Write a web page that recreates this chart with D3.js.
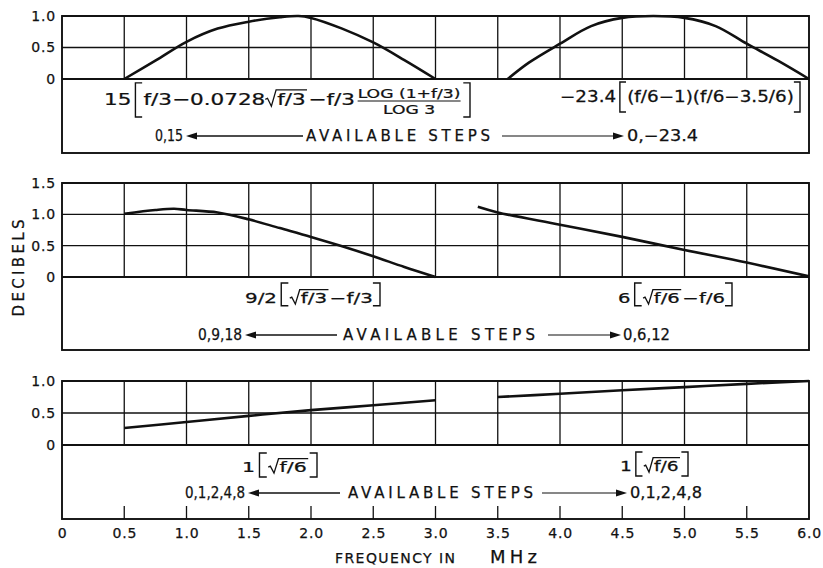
<!DOCTYPE html>
<html>
<head>
<meta charset="utf-8">
<script src="https://cdn.jsdelivr.net/npm/d3@7"></script>
<style>
  body { margin: 0; background: #fff; }
  svg { display: block; font-family: "DejaVu Sans", sans-serif; }
  text { fill: #111; stroke: #111; stroke-width: 0.25px; }
</style>
</head>
<body>
<svg width="823" height="568"></svg>
<script>
// ---- data ----
const freqTicks = [0, 0.5, 1.0, 1.5, 2.0, 2.5, 3.0, 3.5, 4.0, 4.5, 5.0, 5.5, 6.0];
const freqLabels = ["0", "0.5", "1.0", "1.5", "2.0", "2.5", "3.0", "3.5", "4.0", "4.5", "5.0", "5.5", "6.0"];

// top panel
const aTicks = [0, 0.5, 1.0];
const aLabels = ["0", "0.5", "1.0"];
const aLowF = [0.5, 0.75, 1.0, 1.25, 1.5, 1.75, 1.9, 2.0, 2.25, 2.5, 2.75, 3.0];
const aLowDb = [0, 0.29, 0.59, 0.8, 0.91, 0.98, 1.0, 0.97, 0.8, 0.58, 0.3, 0];
const aHighF = [3.58, 3.75, 4.0, 4.25, 4.5, 4.75, 5.0, 5.25, 5.5, 5.75, 6.0];
const aHighDb = [0, 0.26, 0.56, 0.84, 0.97, 1.0, 0.97, 0.84, 0.56, 0.29, 0];
const aSteps = ["0,15", "0,\u221223.4"];

// middle panel
const bTicks = [0, 0.5, 1.0, 1.5];
const bLabels = ["0", "0.5", "1.0", "1.5"];
const bLowF = [0.5, 0.75, 0.9, 1.0, 1.25, 1.5, 1.75, 2.0, 2.25, 2.5, 2.75, 3.0];
const bLowDb = [1.01, 1.07, 1.09, 1.07, 1.03, 0.92, 0.78, 0.64, 0.49, 0.33, 0.16, 0];
const bHighF = [3.34, 3.5, 4.0, 4.5, 5.0, 5.5, 6.0];
const bHighDb = [1.12, 1.03, 0.835, 0.64, 0.43, 0.23, 0.01];
const bSteps = ["0,9,18", "0,6,12"];

// bottom panel
const cTicks = [0, 0.5, 1.0];
const cLabels = ["0", "0.5", "1.0"];
const cLowF = [0.5, 1.0, 1.5, 2.0, 2.5, 3.0];
const cLowDb = [0.265, 0.36, 0.455, 0.545, 0.62, 0.7];
const cHighF = [3.5, 4.0, 4.5, 5.0, 5.5, 6.0];
const cHighDb = [0.75, 0.8, 0.855, 0.905, 0.955, 1.0];
const cSteps = ["0,1,2,4,8", "0,1,2,4,8"];

const stepsText = "AVAILABLE STEPS";
const yTitle = "DECIBELS";
const xTitle = "FREQUENCY IN";
const xUnit = "MHz";

// formulas (strings, square roots, fractions, brackets)
const fA1 = ["15", { br: ["f/3\u22120.0728", { sqrt: ["f/3"] }, "\u2212f/3 ", { frac: [["LOG (1+f/3)"], ["LOG 3"]] }], hi: 1.38, lo: 0.75 }];
const fA2 = ["\u221223.4 ", { br: ["(f/6\u22121)(f/6\u22123.5/6)"], hi: 1.33, lo: 0.67 }];
const fB1 = ["9/2", { br: [{ sqrt: ["f/3"] }, "\u2212f/3"], hi: 1.43, lo: 0.2 }];
const fB2 = ["6", { br: [{ sqrt: ["f/6"] }, "\u2212f/6"], hi: 1.43, lo: 0.2 }];
const fC1 = ["1", { br: [{ sqrt: ["f/6"] }], hi: 1.36, lo: 0.36 }];
const fC2 = ["1", { br: [{ sqrt: ["f/6"] }], hi: 1.36, lo: 0.36 }];

// ---- layout ----
const svg = d3.select("svg");
const ink = "#111";
const x = d3.scaleLinear().domain([0, 6]).range([62, 809]);

const panels = [
  {
    top: 16, zero: 79, bottom: 153, max: 1.0, ticks: aTicks, labels: aLabels,
    series: [[aLowF, aLowDb], [aHighF, aHighDb]],
    formulas: [[fA1, 104, 105, 16, 366], [fA2, 560, 102, 15, 240]],
    steps: aSteps, row: { y: 141, l: [183, 186, 303], m: [306, 184], r: [502, 624, 627], lw: [28, 71] },
  },
  {
    top: 183, zero: 277, bottom: 350, max: 1.5, ticks: bTicks, labels: bLabels,
    series: [[bLowF, bLowDb], [bHighF, bHighDb]],
    formulas: [[fB1, 245, 303, 14, 135], [fB2, 618, 303, 14, 114]],
    steps: bSteps, row: { y: 340, l: [242, 245, 337], m: [343, 192], r: [548, 621, 623], lw: [44, 47] },
  },
  {
    top: 381, zero: 445, bottom: 519, max: 1.0, ticks: cTicks, labels: cLabels,
    series: [[cLowF, cLowDb], [cHighF, cHighDb]],
    formulas: [[fC1, 242, 472, 14, 75], [fC2, 620, 471, 14, 68]],
    steps: cSteps, row: { y: 498, l: [245, 248, 340], m: [348, 185], r: [542, 627, 630], lw: [60, 72] },
  },
];

// lays out formula items from (x0, y) and returns the width used
function typeset(g, items, x0, y, fs) {
  let cx = x0;
  items.forEach((it) => {
    if (typeof it === "string") {
      const t = g.append("text").attr("x", cx).attr("y", y).attr("font-size", fs).text(it);
      cx += t.node().getComputedTextLength();
    } else if (it.sqrt) {
      const inner = cx + fs * 0.55;
      const w = typeset(g, it.sqrt, inner, y, fs);
      const topY = y - fs * 0.95;
      g.append("path")
        .attr("d", `M${cx},${y - fs * 0.35}L${cx + fs * 0.1},${y - fs * 0.42}L${cx + fs * 0.28},${y + fs * 0.08}L${cx + fs * 0.5},${topY}H${inner + w + 1}`)
        .attr("fill", "none").attr("stroke", ink).attr("stroke-width", 1.3)
        .attr("vector-effect", "non-scaling-stroke");
      cx = inner + w + 2;
    } else if (it.frac) {
      const sf = fs * 0.8;
      const bar = y - fs * 0.25;
      const gn = g.append("g");
      const gd = g.append("g");
      const wn = typeset(gn, it.frac[0], 0, bar - sf * 0.25, sf);
      const wd = typeset(gd, it.frac[1], 0, bar + sf * 1.0, sf);
      const w = Math.max(wn, wd);
      gn.attr("transform", `translate(${cx + 2 + (w - wn) / 2},0)`);
      gd.attr("transform", `translate(${cx + 2 + (w - wd) / 2},0)`);
      g.append("line")
        .attr("x1", cx + 2).attr("x2", cx + 2 + w).attr("y1", bar).attr("y2", bar)
        .attr("stroke", ink).attr("stroke-width", 1.2);
      cx += w + 4;
    } else if (it.br) {
      const t = y - fs * it.hi;
      const b = y + fs * it.lo;
      const bracket = (xa, dir) =>
        g.append("path")
          .attr("d", `M${xa + dir * 5},${t}H${xa}V${b}H${xa + dir * 5}`)
          .attr("fill", "none").attr("stroke", ink).attr("stroke-width", 1.4)
          .attr("vector-effect", "non-scaling-stroke");
      bracket(cx + 3, 1);
      const w = typeset(g, it.br, cx + 9, y, fs);
      bracket(cx + 9 + w + 5, -1);
      cx += w + 20;
    }
  });
  return cx - x0;
}

// stretch a group horizontally so it spans [x0, x0 + w]
function fitX(g, x0, w) {
  const bb = g.node().getBBox();
  g.attr("transform", `translate(${x0},0) scale(${w / bb.width},1) translate(${-bb.x},0)`);
}

const line = (y) =>
  d3.line().curve(d3.curveCatmullRom.alpha(0.5)).x((d) => x(d[0])).y((d) => y(d[1]));

panels.forEach((p) => {
  const y = d3.scaleLinear().domain([0, p.max]).range([p.zero, p.top]);
  const g = svg.append("g");

  // grid
  g.selectAll(".vgrid")
    .data(freqTicks.slice(1, -1))
    .enter()
    .append("line")
    .attr("x1", (d) => x(d)).attr("x2", (d) => x(d))
    .attr("y1", p.top).attr("y2", p.zero)
    .attr("stroke", ink).attr("stroke-width", 1.3);
  g.selectAll(".hgrid")
    .data(p.ticks)
    .enter()
    .append("line")
    .attr("x1", x(0)).attr("x2", x(6))
    .attr("y1", (d) => y(d)).attr("y2", (d) => y(d))
    .attr("stroke", ink).attr("stroke-width", (d) => (d === 0 ? 1.9 : 1.3));

  // frame
  g.append("rect")
    .attr("x", x(0)).attr("y", p.top)
    .attr("width", x(6) - x(0)).attr("height", p.bottom - p.top)
    .attr("fill", "none").attr("stroke", ink).attr("stroke-width", 1.9);

  // curves
  g.selectAll(".curve")
    .data(p.series.map((s) => s[0].map((f, i) => [f, s[1][i]])))
    .enter()
    .append("path")
    .attr("d", line(y))
    .attr("fill", "none").attr("stroke", ink).attr("stroke-width", 2.6)
    .attr("stroke-linejoin", "round");

  // y labels
  const yAxis = g.append("g")
    .attr("transform", `translate(${x(0)},0)`)
    .call(d3.axisLeft(y).tickValues(p.ticks).tickFormat((d, i) => p.labels[i]).tickSize(0).tickPadding(6));
  yAxis.select(".domain").remove();
  yAxis.selectAll("text")
    .attr("font-family", "DejaVu Sans").attr("font-size", 14)
    .attr("letter-spacing", 0.8).attr("fill", ink);

  // formulas
  p.formulas.forEach(([items, fx, fy, fs, fw]) => {
    const fg = g.append("g");
    typeset(fg, items, 0, fy, fs);
    fitX(fg, fx, fw);
  });

  // available steps row
  const r = p.row;
  const ay = r.y - 5;
  g.append("text")
    .attr("x", r.l[0] - r.lw[0]).attr("y", r.y)
    .attr("font-size", 15).attr("textLength", r.lw[0]).attr("lengthAdjust", "spacingAndGlyphs")
    .text(p.steps[0]);
  g.append("line")
    .attr("x1", r.l[1] + 8).attr("x2", r.l[2]).attr("y1", ay).attr("y2", ay)
    .attr("stroke", ink).attr("stroke-width", 1.7);
  g.append("path")
    .attr("d", `M${r.l[1]},${ay}L${r.l[1] + 11},${ay - 3.5}L${r.l[1] + 11},${ay + 3.5}Z`)
    .attr("fill", ink);
  g.append("text")
    .attr("x", r.m[0]).attr("y", r.y)
    .attr("font-size", 15).attr("textLength", r.m[1]).attr("lengthAdjust", "spacing")
    .text(stepsText);
  g.append("line")
    .attr("x1", r.r[0]).attr("x2", r.r[1] - 8).attr("y1", ay).attr("y2", ay)
    .attr("stroke", ink).attr("stroke-width", 1.2);
  g.append("path")
    .attr("d", `M${r.r[1]},${ay}L${r.r[1] - 11},${ay - 3.5}L${r.r[1] - 11},${ay + 3.5}Z`)
    .attr("fill", ink);
  g.append("text")
    .attr("x", r.r[2]).attr("y", r.y)
    .attr("font-size", 15).attr("textLength", r.lw[1]).attr("lengthAdjust", "spacingAndGlyphs")
    .text(p.steps[1]);

  // bottom panel carries the frequency ticks
  if (p === panels[2]) {
    g.selectAll(".tick-up")
      .data(freqTicks.slice(1, -1))
      .enter()
      .append("line")
      .attr("x1", (d) => x(d)).attr("x2", (d) => x(d))
      .attr("y1", p.bottom - 13).attr("y2", p.bottom)
      .attr("stroke", ink).attr("stroke-width", 1.3);
    const xAxis = g.append("g")
      .attr("transform", `translate(0,${p.bottom})`)
      .call(d3.axisBottom(x).tickValues(freqTicks).tickFormat((d, i) => freqLabels[i]).tickSize(0).tickPadding(9));
    xAxis.select(".domain").remove();
    xAxis.selectAll("text")
      .attr("font-family", "DejaVu Sans").attr("font-size", 14)
      .attr("letter-spacing", 0.8).attr("fill", ink);
  }
});

// axis titles
svg.append("text")
  .attr("transform", "translate(24,268) rotate(-90)")
  .attr("text-anchor", "middle")
  .attr("font-size", 15).attr("textLength", 97).attr("lengthAdjust", "spacing")
  .text(yTitle);
svg.append("text")
  .attr("x", 335).attr("y", 563)
  .attr("font-size", 14).attr("textLength", 120).attr("lengthAdjust", "spacing")
  .text(xTitle);
svg.append("text")
  .attr("x", 490).attr("y", 563)
  .attr("font-size", 18).attr("textLength", 47).attr("lengthAdjust", "spacing")
  .text(xUnit);
</script>
</body>
</html>
